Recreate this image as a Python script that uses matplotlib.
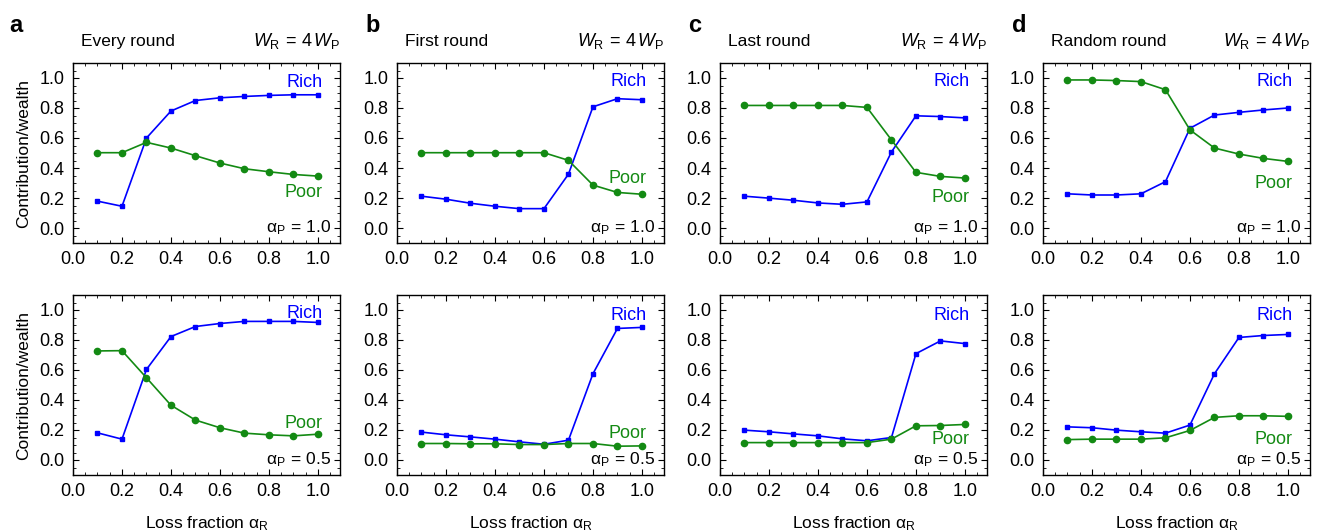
import matplotlib
matplotlib.use('Agg')
import matplotlib.pyplot as plt
from matplotlib.ticker import MultipleLocator

plt.rcParams['font.family'] = ['Liberation Sans', 'DejaVu Sans']
plt.rcParams['mathtext.fontset'] = 'custom'
plt.rcParams['mathtext.rm'] = 'Liberation Sans'
plt.rcParams['mathtext.it'] = 'Liberation Sans:italic'

# loss fraction of the rich
alpha_r = [0.1, 0.2, 0.3, 0.4, 0.5, 0.6, 0.7, 0.8, 0.9, 1.0]

# top row, alpha_P = 1.0
rich_every_1 = [0.179, 0.145, 0.600, 0.780, 0.850, 0.868, 0.877, 0.884, 0.888, 0.888]
poor_every_1 = [0.502, 0.502, 0.571, 0.533, 0.482, 0.433, 0.395, 0.375, 0.357, 0.346]
rich_first_1 = [0.212, 0.192, 0.165, 0.145, 0.129, 0.129, 0.359, 0.808, 0.862, 0.855]
poor_first_1 = [0.502, 0.502, 0.502, 0.502, 0.502, 0.502, 0.451, 0.286, 0.237, 0.225]
rich_last_1 = [0.212, 0.199, 0.185, 0.167, 0.158, 0.174, 0.507, 0.748, 0.743, 0.734]
poor_last_1 = [0.817, 0.817, 0.817, 0.817, 0.817, 0.804, 0.587, 0.371, 0.344, 0.333]
rich_random_1 = [0.228, 0.220, 0.220, 0.228, 0.309, 0.665, 0.753, 0.771, 0.787, 0.800]
poor_random_1 = [0.987, 0.987, 0.983, 0.976, 0.922, 0.654, 0.533, 0.493, 0.464, 0.444]

# bottom row, alpha_P = 0.5
rich_every_05 = [0.181, 0.139, 0.604, 0.823, 0.890, 0.910, 0.924, 0.924, 0.924, 0.917]
poor_every_05 = [0.727, 0.729, 0.548, 0.365, 0.266, 0.215, 0.179, 0.168, 0.161, 0.172]
rich_first_05 = [0.186, 0.168, 0.154, 0.139, 0.121, 0.105, 0.132, 0.575, 0.877, 0.884]
poor_first_05 = [0.110, 0.110, 0.108, 0.108, 0.103, 0.103, 0.110, 0.110, 0.092, 0.094]
rich_last_05 = [0.199, 0.188, 0.174, 0.161, 0.141, 0.128, 0.150, 0.709, 0.794, 0.776]
poor_last_05 = [0.116, 0.116, 0.116, 0.116, 0.116, 0.116, 0.139, 0.228, 0.230, 0.237]
rich_random_05 = [0.221, 0.215, 0.199, 0.188, 0.179, 0.233, 0.575, 0.817, 0.830, 0.837]
poor_random_05 = [0.136, 0.139, 0.139, 0.139, 0.148, 0.197, 0.284, 0.295, 0.295, 0.291]

titles = ['Every round', 'First round', 'Last round', 'Random round']
letters = ['a', 'b', 'c', 'd']
rich_rows = [[rich_every_1, rich_first_1, rich_last_1, rich_random_1],
             [rich_every_05, rich_first_05, rich_last_05, rich_random_05]]
poor_rows = [[poor_every_1, poor_first_1, poor_last_1, poor_random_1],
             [poor_every_05, poor_first_05, poor_last_05, poor_random_05]]
alpha_p = ['1.0', '0.5']
# y position of the Rich / Poor labels in each panel
rich_label_y = [[0.97, 0.98, 0.98, 0.98], [0.98, 0.96, 0.96, 0.96]]
poor_label_y = [[0.24, 0.33, 0.205, 0.30], [0.24, 0.18, 0.14, 0.14]]

blue = '#0000ff'
green = '#138a13'

fig = plt.figure(figsize=(13.17, 5.32), dpi=100)

lefts = [73, 397, 720, 1043]
letter_x = [9, 365, 688, 1012]
tops = [63, 295]
W, H = 267, 180

for r in range(2):
    for c in range(4):
        ax = fig.add_axes([lefts[c] / 1317, 1 - (tops[r] + H) / 532, W / 1317, H / 532])
        ax.plot(alpha_r, rich_rows[r][c], color=blue, marker='s', markersize=3.5, lw=1.2)
        ax.plot(alpha_r, poor_rows[r][c], color=green, marker='o', markersize=4.5, lw=1.2)
        ax.set_xlim(0, 1.09)
        ax.set_ylim(-0.1, 1.1)
        ax.xaxis.set_major_locator(MultipleLocator(0.2))
        ax.xaxis.set_minor_locator(MultipleLocator(0.05))
        ax.yaxis.set_major_locator(MultipleLocator(0.2))
        ax.yaxis.set_minor_locator(MultipleLocator(0.05))
        ax.xaxis.set_major_formatter(lambda v, p: '%.1f' % v)
        ax.yaxis.set_major_formatter(lambda v, p: '%.1f' % (abs(v) if abs(v) < 1e-9 else v))
        ax.tick_params(which='both', direction='in', top=True, right=True, labelsize=13, pad=6)
        ax.tick_params(which='major', length=4, width=0.8)
        ax.tick_params(which='minor', length=2, width=0.6)
        for s in ax.spines.values():
            s.set_linewidth(1.0)

        ax.text(1.02, rich_label_y[r][c], 'Rich', color=blue, fontsize=13, ha='right', va='center')
        ax.text(1.02, poor_label_y[r][c], 'Poor', color=green, fontsize=13, ha='right', va='center')
        ax.text(1.055, 0.0, r'α$_{\mathrm{P}}\,=\,$' + alpha_p[r], fontsize=12.5, ha='right', va='center')

        if c == 0:
            ax.set_ylabel('Contribution/wealth', fontsize=12.5, labelpad=6)
        if r == 1:
            ax.set_xlabel(r'Loss fraction α$_{\mathrm{R}}$', fontsize=12.5, labelpad=10)
        if r == 0:
            ax.text(0.03, 1.12, titles[c], transform=ax.transAxes, fontsize=12.5, ha='left', va='center')
            ax.text(1.0, 1.12, r'$W_{\mathrm{R}}\,=\,4\,W_{\mathrm{P}}$', transform=ax.transAxes,
                    fontsize=13, ha='right', va='center')
            fig.text(letter_x[c] / 1317, 1 - 25 / 532, letters[c], fontsize=17,
                     fontweight='bold', ha='left', va='center')

fig.savefig('out.png', dpi=100)
